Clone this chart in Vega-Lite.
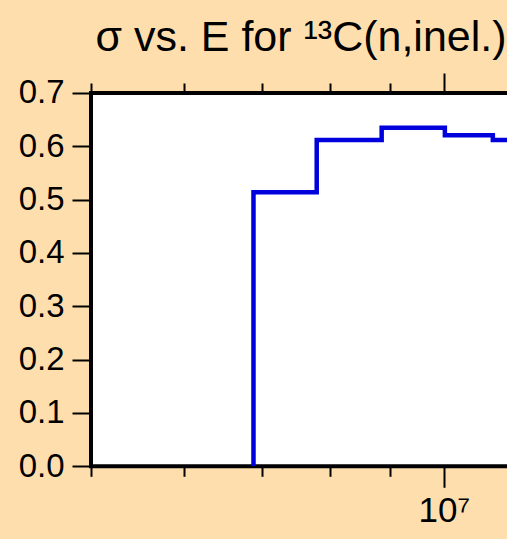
{
  "$schema": "https://vega.github.io/schema/vega-lite/v6.json",
  "autosize": {"type": "none"},
  "padding": {"left": 91, "top": 93, "right": 0, "bottom": 73},
  "width": 420,
  "height": 373.3,
  "background": "#ffdead",
  "config": {
    "view": {"fill": "white", "stroke": "black", "strokeWidth": 4},
    "font": "Liberation Sans"
  },
  "title": {
    "text": "σ vs. E for ¹³C(n,inel.)",
    "fontSize": 43,
    "fontWeight": "normal",
    "color": "black",
    "anchor": "middle",
    "offset": 12
  },
  "data": {
    "values": [
      {"E": 6880000, "sigma": 0.0},
      {"E": 6880000, "sigma": 0.514},
      {"E": 7790000, "sigma": 0.612},
      {"E": 8850000, "sigma": 0.635},
      {"E": 10020000, "sigma": 0.621},
      {"E": 11010000, "sigma": 0.612},
      {"E": 12000000, "sigma": 0.612}
    ]
  },
  "resolve": {"axis": {"x": "independent"}},
  "layer": [
    {
      "mark": {"type": "line", "interpolate": "step-after", "color": "#0000dd", "strokeWidth": 4.5, "clip": true},
      "encoding": {
        "x": {
          "field": "E", "type": "quantitative",
          "scale": {"type": "log", "domain": [5000000, 11410000], "nice": false},
          "axis": {
            "orient": "bottom", "title": null, "domain": false, "grid": false,
            "values": [5000000, 6000000, 7000000, 8000000, 9000000, 10000000],
            "labelExpr": "abs(datum.value - 10000000) < 1 ? '10⁷' : ''",
            "labelFontSize": 35, "labelColor": "black", "labelPadding": 6,
            "tickColor": "black", "tickWidth": 2,
            "tickSize": {"condition": {"test": "abs(datum.value - 10000000) < 1", "value": 21}, "value": 10},
            "labelFlush": false, "labelOverlap": false
          }
        },
        "y": {
          "field": "sigma", "type": "quantitative",
          "scale": {"domain": [0, 0.7], "nice": false},
          "axis": {
            "title": null, "domain": false, "grid": false,
            "values": [0, 0.1, 0.2, 0.3, 0.4, 0.5, 0.6, 0.7],
            "format": ".1f", "labelFontSize": 33, "labelColor": "black",
            "labelPadding": 8, "tickColor": "black", "tickWidth": 2, "tickSize": 19,
            "labelFlush": false, "labelOverlap": false
          }
        }
      }
    },
    {
      "mark": {"type": "line", "opacity": 0},
      "encoding": {
        "x": {
          "field": "E", "type": "quantitative",
          "axis": {
            "orient": "top", "title": null, "domain": false, "grid": false, "labels": false,
            "values": [5000000, 6000000, 7000000, 8000000, 9000000, 10000000],
            "tickColor": "black", "tickWidth": 2,
            "tickSize": {"condition": {"test": "abs(datum.value - 10000000) < 1", "value": 20}, "value": 10}
          }
        },
        "y": {"field": "sigma", "type": "quantitative"}
      }
    }
  ]
}
